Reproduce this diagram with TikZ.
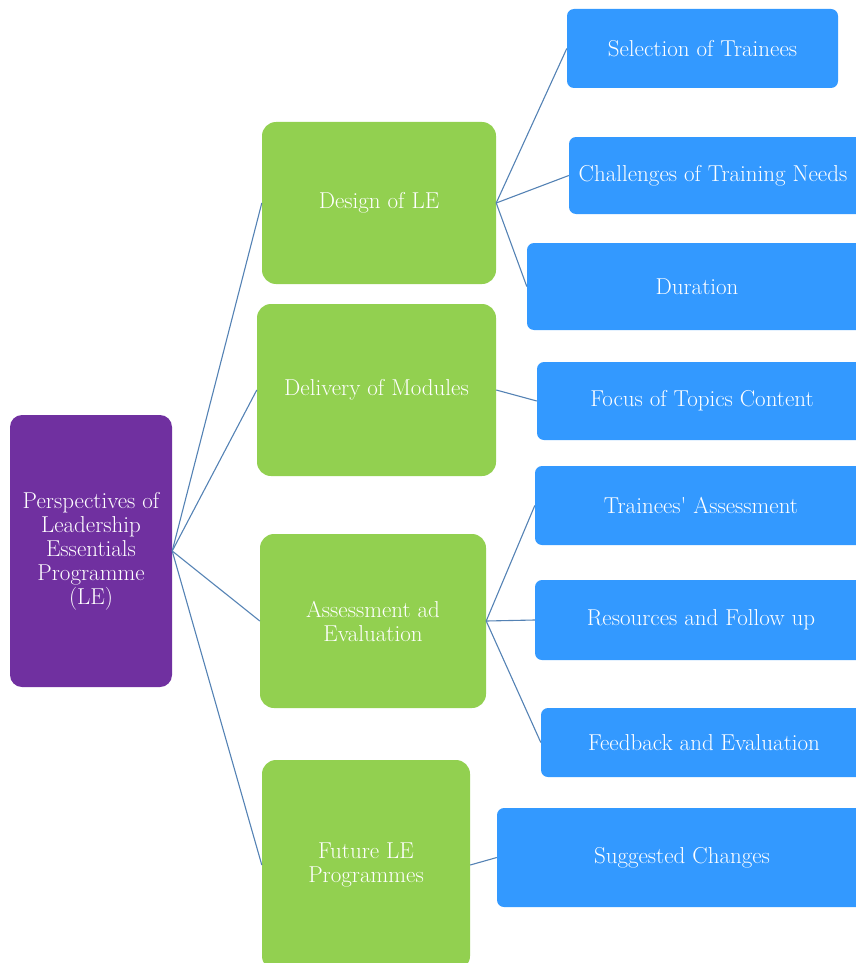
\documentclass[tikz,border=0pt]{standalone}
\begin{document}
\definecolor{rootpurple}{RGB}{112,48,160}
\definecolor{midgreen}{RGB}{146,208,80}
\definecolor{leafblue}{RGB}{51,153,255}
\definecolor{linkblue}{RGB}{84,130,180}
\begin{tikzpicture}[x=1pt,y=-1pt,
  box/.style={inner sep=0pt, text=white, align=center,
    font=\fontsize{23}{24}\selectfont},
  rootbox/.style={box, fill=rootpurple, rounded corners=12pt},
  midbox/.style={box, fill=midgreen, rounded corners=14pt},
  leafbox/.style={box, fill=leafblue, rounded corners=7pt},
  link/.style={draw=linkblue, line width=1.1pt}]
\useasboundingbox (0,0) rectangle (856,963);

% root
\node[rootbox, minimum width=162pt, minimum height=272pt] (root) at (91,551)
  {Perspectives of\\Leadership\\Essentials\\Programme\\(LE)};

% second level
\node[midbox, minimum width=234pt, minimum height=162pt] (design) at (379,203) {Design of LE};
\node[midbox, minimum width=239pt, minimum height=172pt] (delivery) at (376.5,390) {Delivery of Modules};
\node[midbox, minimum width=226pt, minimum height=174pt] (assess) at (373,621) {Assessment ad\\Evaluation};
\node[midbox, minimum width=208pt, minimum height=210pt] (future) at (366,865) {Future LE\\Programmes};

% third level
\node[leafbox, minimum width=271pt, minimum height=79pt] (select) at (702.5,48.5) {Selection of Trainees};
\node[leafbox, minimum width=300pt, minimum height=77pt] (challenge) at (719,175.5) {Challenges of Training Needs\hspace*{12pt}};
\node[leafbox, minimum width=340pt, minimum height=87pt] (duration) at (697,286.5) {Duration};
\node[leafbox, minimum width=330pt, minimum height=78pt] (focus) at (702,401) {Focus of Topics Content};
\node[leafbox, minimum width=332pt, minimum height=79pt] (trainees) at (701,505.5) {Trainees\textquotesingle{} Assessment};
\node[leafbox, minimum width=332pt, minimum height=80pt] (resources) at (701,620) {Resources and Follow up};
\node[leafbox, minimum width=326pt, minimum height=69pt] (feedback) at (704,742.5) {Feedback and Evaluation};
\node[leafbox, minimum width=370pt, minimum height=99pt] (suggest) at (682,857.5) {Suggested Changes};

% connectors
\foreach \m in {design,delivery,assess,future}
  \draw[link] (root.east) -- (\m.west);
\foreach \l in {select,challenge,duration}
  \draw[link] (design.east) -- (\l.west);
\draw[link] (delivery.east) -- (focus.west);
\foreach \l in {trainees,resources,feedback}
  \draw[link] (assess.east) -- (\l.west);
\draw[link] (future.east) -- (suggest.west);
\end{tikzpicture}
\end{document}
